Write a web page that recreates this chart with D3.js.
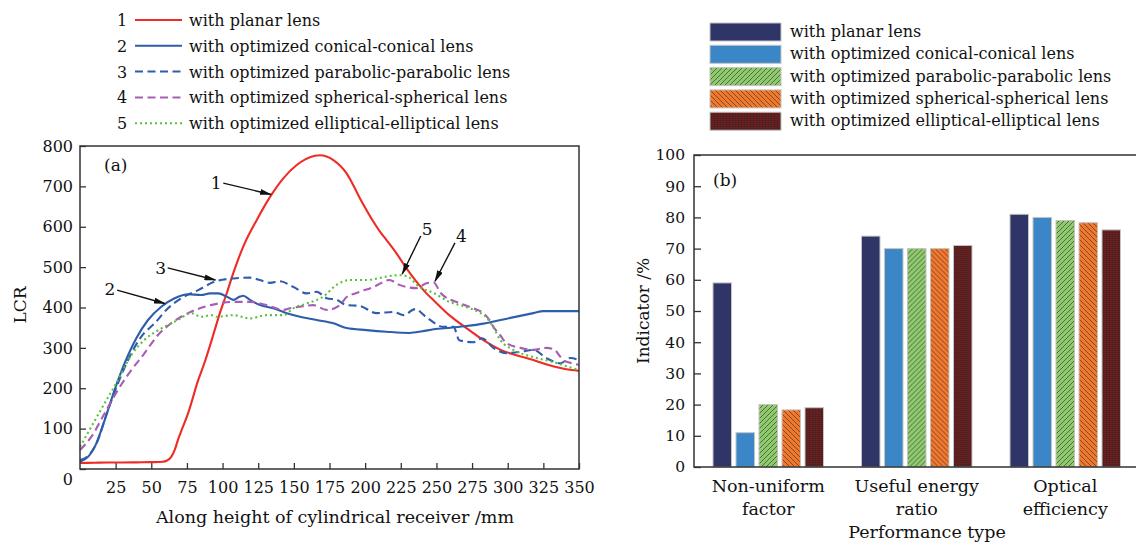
<!DOCTYPE html>
<html>
<head>
<meta charset="utf-8">
<script src="https://cdn.jsdelivr.net/npm/d3@7"></script>
<style>
  body { margin: 0; background: #fff; }
  svg { display: block; }
  text { font-family: 'DejaVu Serif', serif; fill: #111; }
</style>
</head>
<body>
<svg id="chart" width="1136" height="543"></svg>
<script>
/* global d3 */

// ---- panel (a) data : [height mm, LCR]
const planar = [[0,15],[10,15.5],[20,16],[30,16],[40,16.5],[50,17],[58,18],[61,21],[64,30],[66.5,48],[68.7,72],[72,103],[75.8,138],[82.9,220],[87.5,265],[92,315],[98,385],[103,436],[107.5,485],[114.5,551],[124,617],[133.3,674],[142.6,720],[152,753],[158,767],[164.8,776],[168.3,777],[177.7,765],[187,732],[191.7,703],[196.4,670],[201,641],[205.7,613],[210.4,588],[215,567],[222,534],[229,497],[236,464],[243,435],[248,418],[259,381],[271,349],[283,319],[295,295],[306,282],[318,270],[328,258],[337,250],[345,245],[350,243]];
const conical = [[0,18],[5.6,30],[11.4,63],[17.3,121],[24.3,196],[31.3,262],[39.5,324],[47.7,369],[57,402],[66.4,423],[75.8,433],[85,431],[91.2,435],[97,435],[102.9,427],[107.5,419],[112.2,427],[114.5,429],[119.2,419],[126.3,406],[135.6,398],[145,386],[154.3,377],[166,369],[177.7,361],[187,349],[201,344],[215,340],[231,337],[240,341],[248,346],[260,350],[271,354],[283,360],[295,369],[307,378],[318,386],[325,391],[335,391],[350,391]];
const parabolic = [[0,22],[5.6,32],[11.4,62],[19.6,146],[26.6,212],[33.7,270],[43,328],[52.4,361],[61.7,398],[71,423],[82.9,443],[94.5,464],[107.5,472],[119.2,474],[126.3,468],[133.3,461],[140.3,465],[149.6,451],[159,435],[166,439],[173,423],[180,419],[187,406],[196,404],[208,386],[220,389],[227,381],[235,396],[243,376],[255,352],[262,352],[266,319],[276,314],[282,324],[290,300],[299,287],[309,290],[318,295],[327,275],[337,262],[344,275],[350,270]];
const spherical = [[0,47],[8,80],[17.3,138],[26.6,196],[36,245],[45.3,287],[54.7,332],[64,361],[75.8,386],[87.4,402],[95.8,409],[107.5,414],[119.2,414],[131,406],[142.6,394],[147.3,398],[154.3,402],[163.6,406],[173,394],[182.4,406],[187,426],[194,436],[206,451],[217,468],[224,456],[236,448],[243,460],[248,462],[253,436],[266,411],[276,398],[283,386],[287,370],[290,352],[295,330],[299,312],[309,300],[318,295],[327,300],[332,297],[339,270],[345,262],[350,258]];
const elliptical = [[0,55],[8,105],[17.3,163],[26.6,220],[36,282],[45.3,320],[57,348],[68.7,369],[78,386],[85,377],[92,381],[95.8,377],[107.5,381],[119.2,373],[131,381],[142.6,381],[149.6,398],[159,410],[170.6,427],[180,456],[189,468],[201,468],[210,473],[217,478],[224,480],[229,478],[238,451],[248,436],[259,414],[271,401],[281,386],[285,376],[290,350],[295,319],[304,295],[318,277],[332,265],[340,256],[350,245]];

const lineNames = ['with planar lens', 'with optimized conical-conical lens', 'with optimized parabolic-parabolic lens',
  'with optimized spherical-spherical lens', 'with optimized elliptical-elliptical lens'];
const xTicksA = [25, 50, 75, 100, 125, 150, 175, 200, 225, 250, 275, 300, 325, 350];
const yTicksA = [0, 100, 200, 300, 400, 500, 600, 700, 800];

// callouts, in data units: label position, arrow start, arrow tip
const callouts = [
  { label: '1', tx: 95.5, ty: 693, x1: 100.5, y1: 708, x2: 134, y2: 680 },
  { label: '3', tx: 56.5, ty: 483, x1: 61.5, y1: 498, x2: 95, y2: 468 },
  { label: '2', tx: 21, ty: 430, x1: 26, y1: 443, x2: 59.5, y2: 410 },
  { label: '5', tx: 243.5, ty: 580, x1: 239, y1: 577, x2: 226, y2: 483 },
  { label: '4', tx: 267.5, ty: 563, x1: 263, y1: 560, x2: 249, y2: 465 },
];

// ---- panel (b) data
const categories = [['Non-uniform', 'factor'], ['Useful energy', 'ratio'], ['Optical', 'efficiency']];
const planarB = [59, 74, 81];
const conicalB = [11, 70, 80];
const parabolicB = [20, 70, 79];
const sphericalB = [18.3, 70, 78.3];
const ellipticalB = [19, 71, 76];
const yTicksB = [0, 10, 20, 30, 40, 50, 60, 70, 80, 90, 100];

const svg = d3.select('#chart');
const defs = svg.append('defs');

// hatch fills
function hatch(id, bg, path, w, h, sw) {
  let p = defs.append('pattern').attr('id', id).attr('patternUnits', 'userSpaceOnUse')
    .attr('width', w).attr('height', h);
  p.append('rect').attr('width', w).attr('height', h).attr('fill', bg);
  p.append('path').attr('d', path).attr('stroke', '#2b2b2b').attr('stroke-width', sw).attr('fill', 'none');
}
hatch('hGreen', '#8fcb6c', 'M-1,6 L6,-1 M4,9 L9,4 M-1,1 L1,-1', 5, 5, 0.6);
hatch('hOrange', '#f2782c', 'M-1,-1 L6,6 M4,-4 L9,1 M-1,4 L1,6', 5, 5, 0.6);
hatch('hRed', '#7a1a1c', 'M0,0.5 H3 M0.5,0 V2', 3, 2, 0.5);

defs.append('marker').attr('id', 'arrow').attr('viewBox', '0 0 12 6')
  .attr('refX', 11).attr('refY', 3).attr('markerWidth', 12).attr('markerHeight', 6)
  .attr('markerUnits', 'userSpaceOnUse').attr('orient', 'auto')
  .append('path').attr('d', 'M0,0 L12,3 L0,6 z').attr('fill', '#111');

// ================= panel (a)
const xA = d3.scaleLinear().domain([0, 350]).range([80, 579]);
const yA = d3.scaleLinear().domain([0, 800]).range([469, 146]);
const gA = svg.append('g');

const lineStyles = [
  { data: planar, color: '#ef2b25', dash: null },
  { data: conical, color: '#2d5dab', dash: null },
  { data: parabolic, color: '#2d5dab', dash: '8,4.5' },
  { data: spherical, color: '#a95cb5', dash: '8,4.5' },
  { data: elliptical, color: '#5bc03a', dash: '2,3' },
];

gA.append('g').attr('transform', 'translate(0,469)')
  .call(d3.axisBottom(xA).tickValues(xTicksA).tickSize(-6).tickPadding(13))
  .call(g => g.select('.domain').remove())
  .call(g => g.selectAll('line').attr('stroke', '#333').attr('stroke-width', 1.3))
  .call(g => g.selectAll('text').attr('font-size', 16).attr('font-family', 'DejaVu Serif').attr('fill', '#111'));

gA.append('g').attr('transform', 'translate(80,0)')
  .call(d3.axisLeft(yA).tickValues(yTicksA).tickSize(-6).tickPadding(7))
  .call(g => g.select('.domain').remove())
  .call(g => g.selectAll('line').attr('stroke', '#333').attr('stroke-width', 1.3))
  .call(g => g.selectAll('text').attr('font-size', 16).attr('font-family', 'DejaVu Serif').attr('fill', '#111'))
  .call(g => g.selectAll('.tick').filter(d => d === 0).select('text').attr('dy', '0.95em'));

const line = d3.line().x(d => xA(d[0])).y(d => yA(d[1])).curve(d3.curveMonotoneX);
gA.selectAll('path.series').data(lineStyles).join('path')
  .attr('class', 'series')
  .attr('d', d => line(d.data))
  .attr('fill', 'none')
  .attr('stroke', d => d.color)
  .attr('stroke-width', 2.1)
  .attr('stroke-dasharray', d => d.dash);

gA.append('rect')
  .attr('x', xA(0)).attr('y', yA(800))
  .attr('width', xA(350) - xA(0)).attr('height', yA(0) - yA(800))
  .attr('fill', 'none').attr('stroke', '#333').attr('stroke-width', 1.5);

callouts.forEach(c => {
  gA.append('line')
    .attr('x1', xA(c.x1)).attr('y1', yA(c.y1)).attr('x2', xA(c.x2)).attr('y2', yA(c.y2))
    .attr('stroke', '#111').attr('stroke-width', 1.4).attr('marker-end', 'url(#arrow)');
  gA.append('text').attr('x', xA(c.tx)).attr('y', yA(c.ty))
    .attr('text-anchor', 'middle').attr('font-size', 17).text(c.label);
});

gA.append('text').attr('x', 104).attr('y', 171).attr('font-size', 17).text('(a)');
gA.append('text').attr('x', 335).attr('y', 523).attr('text-anchor', 'middle').attr('font-size', 17.5)
  .text('Along height of cylindrical receiver /mm');
gA.append('text').attr('transform', 'translate(26,305) rotate(-90)').attr('text-anchor', 'middle')
  .attr('font-size', 17).text('LCR');

// legend (a)
const legA = gA.append('g');
lineNames.forEach((name, i) => {
  let yy = 20 + i * 25.8;
  legA.append('text').attr('x', 122).attr('y', yy + 6).attr('text-anchor', 'middle')
    .attr('font-size', 16).text(i + 1);
  legA.append('line').attr('x1', 135).attr('x2', 182).attr('y1', yy).attr('y2', yy)
    .attr('stroke', lineStyles[i].color).attr('stroke-width', 2)
    .attr('stroke-dasharray', lineStyles[i].dash);
  legA.append('text').attr('x', 189).attr('y', yy + 6).attr('font-size', 16).text(name);
});

// ================= panel (b)
const seriesB = [
  { name: lineNames[0], values: planarB, fill: '#2f3567' },
  { name: lineNames[1], values: conicalB, fill: '#3a86c6' },
  { name: lineNames[2], values: parabolicB, fill: 'url(#hGreen)' },
  { name: lineNames[3], values: sphericalB, fill: 'url(#hOrange)' },
  { name: lineNames[4], values: ellipticalB, fill: 'url(#hRed)' },
];
const xB = d3.scaleBand().domain(d3.range(categories.length)).range([694, 1139.5]).padding(0);
const xInner = d3.scaleBand().domain(d3.range(seriesB.length)).range([0, 110.5]).paddingInner(0.196).paddingOuter(0);
const yB = d3.scaleLinear().domain([0, 100]).range([467, 155]);
const gB = svg.append('g');

const groups = gB.selectAll('g.grp').data(categories).join('g')
  .attr('class', 'grp')
  .attr('transform', (d, i) => `translate(${xB(i) + xB.bandwidth() / 2 - 55.25},0)`);
groups.selectAll('rect').data((d, i) => seriesB.map((s, j) => ({ j, v: s.values[i], fill: s.fill })))
  .join('rect')
  .attr('x', d => xInner(d.j)).attr('width', xInner.bandwidth())
  .attr('y', d => yB(d.v)).attr('height', d => yB(0) - yB(d.v))
  .attr('fill', d => d.fill).attr('stroke', '#c4c4c4').attr('stroke-width', 1);

gB.append('g').attr('transform', 'translate(694,0)')
  .call(d3.axisLeft(yB).tickValues(yTicksB).tickSize(-7).tickPadding(9))
  .call(g => g.select('.domain').remove())
  .call(g => g.selectAll('line').attr('stroke', '#333').attr('stroke-width', 1.3))
  .call(g => g.selectAll('text').attr('font-size', 15.5).attr('font-family', 'DejaVu Serif').attr('fill', '#111'));

gB.append('path')
  .attr('d', `M1139.5,${yB(100)} H694 V${yB(0)} H1139.5`)
  .attr('fill', 'none').attr('stroke', '#333').attr('stroke-width', 1.5);

categories.forEach((lines, i) => {
  let t = gB.append('text').attr('text-anchor', 'middle').attr('font-size', 17.5);
  lines.forEach((s, k) => {
    t.append('tspan').attr('x', xB(i) + xB.bandwidth() / 2).attr('y', 492 + k * 23).text(s);
  });
});
gB.append('text').attr('x', 927).attr('y', 538).attr('text-anchor', 'middle').attr('font-size', 17.5)
  .text('Performance type');
gB.append('text').attr('transform', 'translate(649,311) rotate(-90)').attr('text-anchor', 'middle')
  .attr('font-size', 17).text('Indicator /%');
gB.append('text').attr('x', 713).attr('y', 186).attr('font-size', 17).text('(b)');

// legend (b)
seriesB.forEach((s, i) => {
  let top = 23 + i * 22.3;
  gB.append('rect').attr('x', 710).attr('y', top).attr('width', 71).attr('height', 18)
    .attr('fill', s.fill).attr('stroke', '#c4c4c4').attr('stroke-width', 1);
  gB.append('text').attr('x', 790).attr('y', top + 14).attr('font-size', 16).text(s.name);
});
</script>
</body>
</html>
